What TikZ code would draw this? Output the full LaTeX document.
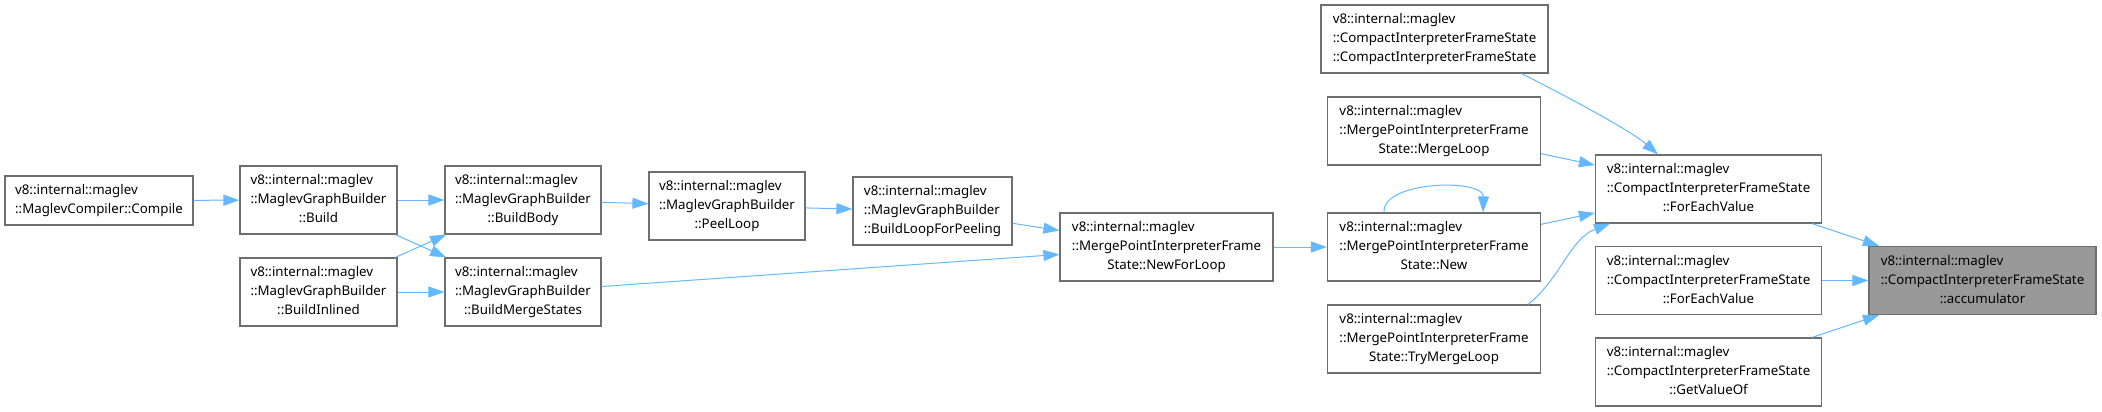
\documentclass[tikz,border=0pt]{standalone}
\usepackage{fontspec}
\setmainfont{Noto Sans}
\usetikzlibrary{arrows.meta}
\definecolor{edgeblue}{HTML}{63B8FF}
\definecolor{boxgray}{HTML}{6E6E6E}
\definecolor{selgray}{HTML}{999999}
% three line label: first lines left, last line centred
\newcommand{\fnlabel}[3]{\begin{tabular}{@{}l@{}}#1\\#2\\\multicolumn{1}{@{}c@{}}{#3}\end{tabular}}
\newcommand{\fnlabeltwo}[2]{\begin{tabular}{@{}l@{}}#1\\\multicolumn{1}{@{}c@{}}{#2}\end{tabular}}
\tikzset{
  fnbox/.style={draw=boxgray, line width=1.2pt, fill=white, inner sep=0pt,
    minimum width=#1, minimum height=68pt, font=\fontsize{13.3}{19}\selectfont},
  selbox/.style={fnbox=#1, fill=selgray},
  edge/.style={draw=edgeblue, line width=1pt, -{Triangle[length=16pt,width=11pt]}}
}
\begin{document}
\begin{tikzpicture}[x=1pt, y=-1pt]
\useasboundingbox (0,0) rectangle (2102,412);
% callers, left to right
\node[fnbox=188pt, minimum height=49pt] (compile) at (99,200.5)
  {\fnlabeltwo{v8::internal::maglev}{::MaglevCompiler::Compile}};
\node[fnbox=157pt] (build) at (318.5,200)
  {\fnlabel{v8::internal::maglev}{::MaglevGraphBuilder}{::Build}};
\node[fnbox=157pt] (buildinlined) at (318.5,292)
  {\fnlabel{v8::internal::maglev}{::MaglevGraphBuilder}{::BuildInlined}};
\node[fnbox=156pt] (buildbody) at (523,200)
  {\fnlabel{v8::internal::maglev}{::MaglevGraphBuilder}{::BuildBody}};
\node[fnbox=156pt] (buildmerge) at (523,292)
  {\fnlabel{v8::internal::maglev}{::MaglevGraphBuilder}{::BuildMergeStates}};
\node[fnbox=156pt] (peelloop) at (727,206)
  {\fnlabel{v8::internal::maglev}{::MaglevGraphBuilder}{::PeelLoop}};
\node[fnbox=159pt] (buildloop) at (932.5,211)
  {\fnlabel{v8::internal::maglev}{::MaglevGraphBuilder}{::BuildLoopForPeeling}};
\node[fnbox=213pt] (newforloop) at (1166.5,247)
  {\fnlabel{v8::internal::maglev}{::MergePointInterpreterFrame}{State::NewForLoop}};
% merge point column
\node[fnbox=227pt] (ctor) at (1434.5,39)
  {\fnlabel{v8::internal::maglev}{::CompactInterpreterFrameState}{::CompactInterpreterFrameState}};
\node[fnbox=213pt] (mergeloop) at (1434,131)
  {\fnlabel{v8::internal::maglev}{::MergePointInterpreterFrame}{State::MergeLoop}};
\node[fnbox=213pt] (newstate) at (1434,247)
  {\fnlabel{v8::internal::maglev}{::MergePointInterpreterFrame}{State::New}};
\node[fnbox=213pt] (trymerge) at (1434,339)
  {\fnlabel{v8::internal::maglev}{::MergePointInterpreterFrame}{State::TryMergeLoop}};
% compact frame state column
\node[fnbox=226pt] (foreach) at (1708.5,189)
  {\fnlabel{v8::internal::maglev}{::CompactInterpreterFrameState}{::ForEachValue}};
\node[fnbox=226pt] (foreachtwo) at (1708.5,280.5)
  {\fnlabel{v8::internal::maglev}{::CompactInterpreterFrameState}{::ForEachValue}};
\node[fnbox=226pt] (getvalue) at (1708.5,372)
  {\fnlabel{v8::internal::maglev}{::CompactInterpreterFrameState}{::GetValueOf}};
\node[selbox=227pt] (accum) at (1982.5,280.5)
  {\fnlabel{v8::internal::maglev}{::CompactInterpreterFrameState}{::accumulator}};
% calls
\draw[edge] (compile) -- (build);
\draw[edge] (build) -- (buildbody);
\draw[edge] (build) -- (buildmerge);
\draw[edge] (buildinlined) -- (buildbody);
\draw[edge] (buildinlined) -- (buildmerge);
\draw[edge] (buildbody) -- (peelloop);
\draw[edge] (peelloop) -- (buildloop);
\draw[edge] (buildloop) -- (newforloop);
\draw[edge] (buildmerge) -- (newforloop);
\draw[edge] (newforloop) -- (newstate);
\draw[edge] ([xshift=-50pt]newstate.north) .. controls ([xshift=-52pt,yshift=32pt]newstate.north)
  and ([xshift=50pt,yshift=34pt]newstate.north) .. ([xshift=49pt]newstate.north);
\draw[edge] (newstate) -- (foreach);
\draw[edge] (mergeloop) -- (foreach);
\draw[edge] ([xshift=87pt]ctor.south) .. controls ([xshift=117pt,yshift=-15pt]ctor.south)
  and ([xshift=-80.5pt,yshift=26pt]foreach.north) .. ([xshift=-50.5pt]foreach.north);
\draw[edge] ([xshift=94pt]trymerge.north) .. controls ([xshift=126pt,yshift=25pt]trymerge.north)
  and ([xshift=-138.5pt,yshift=-15pt]foreach.south) .. ([xshift=-98.5pt]foreach.south);
\draw[edge] (foreach) -- (accum);
\draw[edge] (foreachtwo) -- (accum);
\draw[edge] (getvalue) -- (accum);
\end{tikzpicture}
\end{document}
